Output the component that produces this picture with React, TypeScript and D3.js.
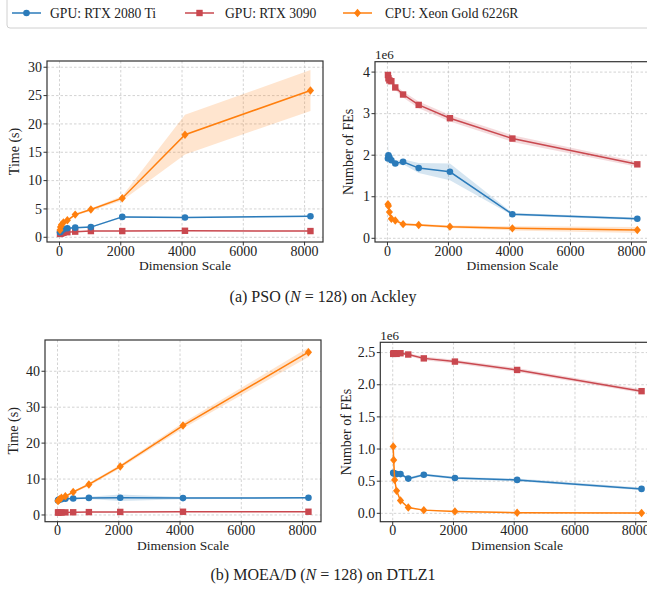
import React from 'react';
import * as d3 from 'd3';

const DIMS = [16, 32, 64, 128, 256, 512, 1024, 2048, 4096, 8192];
const X_TICKS = [0, 2000, 4000, 6000, 8000];

const LEGEND_LABELS = ['GPU: RTX 2080 Ti', 'GPU: RTX 3090', 'CPU: Xeon Gold 6226R'];

// (a) PSO on Ackley — time (s)
const psoTime2080 = [0.9, 1.0, 1.2, 1.4, 1.6, 1.7, 1.8, 3.6, 3.5, 3.7];
const psoTime2080Sd = [0.1, 0.1, 0.1, 0.1, 0.1, 0.1, 0.1, 0.15, 0.1, 0.1];
const psoTime3090 = [0.6, 0.65, 0.7, 0.8, 0.9, 1.0, 1.1, 1.1, 1.15, 1.1];
const psoTime3090Sd = [0.05, 0.05, 0.05, 0.05, 0.05, 0.05, 0.05, 0.05, 0.05, 0.05];
const psoTimeCpu = [1.3, 1.8, 2.2, 2.6, 3.0, 4.0, 4.9, 6.9, 18.1, 25.9];
const psoTimeCpuSd = [0.2, 0.2, 0.2, 0.2, 0.2, 0.2, 0.2, 0.4, 3.5, 3.6];

// (a) PSO on Ackley — number of FEs (x1e6)
const psoFes2080 = [1.92, 2.0, 1.95, 1.88, 1.8, 1.84, 1.69, 1.6, 0.58, 0.47];
const psoFes2080Sd = [0.45, 0.1, 0.08, 0.07, 0.06, 0.06, 0.12, 0.2, 0.03, 0.03];
const psoFes3090 = [3.93, 3.85, 3.8, 3.78, 3.63, 3.46, 3.21, 2.89, 2.4, 1.78];
const psoFes3090Sd = [0.06, 0.06, 0.06, 0.06, 0.06, 0.07, 0.08, 0.08, 0.08, 0.06];
const psoFesCpu = [0.82, 0.78, 0.63, 0.47, 0.43, 0.34, 0.32, 0.28, 0.24, 0.2];
const psoFesCpuSd = [0.03, 0.03, 0.03, 0.03, 0.03, 0.03, 0.03, 0.03, 0.05, 0.07];

// (b) MOEA/D on DTLZ1 — time (s)
const moeaTime2080 = [4.0, 4.2, 4.3, 4.4, 4.5, 4.6, 4.75, 4.8, 4.7, 4.8];
const moeaTime2080Sd = [0.15, 0.15, 0.15, 0.15, 0.15, 0.2, 0.3, 0.9, 0.3, 0.2];
const moeaTime3090 = [0.7, 0.7, 0.7, 0.7, 0.72, 0.75, 0.8, 0.85, 0.9, 0.9];
const moeaTime3090Sd = [0.05, 0.05, 0.05, 0.05, 0.05, 0.05, 0.05, 0.05, 0.05, 0.05];
const moeaTimeCpu = [3.9, 4.1, 4.4, 4.8, 5.2, 6.4, 8.5, 13.5, 24.9, 45.3];
const moeaTimeCpuSd = [0.2, 0.2, 0.2, 0.2, 0.25, 0.3, 0.4, 0.5, 0.8, 1.3];

// (b) MOEA/D on DTLZ1 — number of FEs (x1e6)
const moeaFes2080 = [0.63, 0.62, 0.62, 0.61, 0.61, 0.54, 0.6, 0.55, 0.52, 0.38];
const moeaFes2080Sd = [0.02, 0.02, 0.02, 0.02, 0.02, 0.02, 0.02, 0.02, 0.02, 0.02];
const moeaFes3090 = [2.48, 2.49, 2.49, 2.48, 2.49, 2.47, 2.41, 2.36, 2.23, 1.9];
const moeaFes3090Sd = [0.02, 0.02, 0.02, 0.02, 0.02, 0.02, 0.03, 0.03, 0.03, 0.03];
const moeaFesCpu = [1.04, 0.83, 0.52, 0.35, 0.2, 0.09, 0.05, 0.03, 0.01, 0.005];
const moeaFesCpuSd = [0.65, 0.1, 0.04, 0.02, 0.01, 0.01, 0.01, 0.01, 0.01, 0.01];

const COLORS = ['#2b7bba', '#c9484f', '#ff7f0e'];
const MARKERS = ['circle', 'square', 'diamond'];
const FONT = '"Liberation Serif", "Times New Roman", serif';

type S = { mean: number[]; sd: number[]; idx: number };

function Marker({ kind, x, y, color, size = 1 }: any) {
  if (kind === 'circle') return <circle cx={x} cy={y} r={3.3 * size} fill={color} />;
  if (kind === 'square') {
    const h = 3.2 * size;
    return <rect x={x - h} y={y - h} width={2 * h} height={2 * h} fill={color} />;
  }
  const h = 4.2 * size;
  return <path d={`M${x},${y - h}L${x + h * 0.85},${y}L${x},${y + h}L${x - h * 0.85},${y}Z`} fill={color} />;
}

function Panel({ box, yDomain, yTicks, yFmt, yLabel, yLabelX, offset, series }: any) {
  const [l, t, r, b] = box;
  const x = d3.scaleLinear().domain([-408.55, 8601.55]).range([l, r]);
  const y = d3.scaleLinear().domain(yDomain).range([b, t]);
  const line = d3.line<number>().x((_, i) => x(DIMS[i])).y((d) => y(d));
  return (
    <g>
      {X_TICKS.map((v) => (
        <line key={'gx' + v} x1={x(v)} x2={x(v)} y1={t} y2={b} stroke="#c8c8c8" strokeWidth={0.8} strokeDasharray="2.5,2" />
      ))}
      {yTicks.map((v: number) => (
        <line key={'gy' + v} x1={l} x2={r} y1={y(v)} y2={y(v)} stroke="#c8c8c8" strokeWidth={0.8} strokeDasharray="2.5,2" />
      ))}
      {series.map((s: S) => {
        const area = d3
          .area<number>()
          .x((_, i) => x(DIMS[i]))
          .y0((d, i) => y(d - s.sd[i]))
          .y1((d, i) => y(d + s.sd[i]));
        return <path key={'a' + s.idx} d={area(s.mean) || ''} fill={COLORS[s.idx]} fillOpacity={0.2} />;
      })}
      {series.map((s: S) => (
        <g key={'l' + s.idx}>
          <path d={line(s.mean) || ''} fill="none" stroke={COLORS[s.idx]} strokeWidth={1.5} />
          {s.mean.map((v, i) => (
            <Marker key={i} kind={MARKERS[s.idx]} x={x(DIMS[i])} y={y(v)} color={COLORS[s.idx]} />
          ))}
        </g>
      ))}
      <rect x={l} y={t} width={r - l} height={b - t} fill="none" stroke="#333" strokeWidth={1.2} />
      {X_TICKS.map((v) => (
        <g key={'tx' + v}>
          <line x1={x(v)} x2={x(v)} y1={b} y2={b + 3.5} stroke="#333" strokeWidth={1} />
          <text x={x(v)} y={b + 13.5} textAnchor="middle" fontSize={14} fontFamily={FONT} fill="#222">
            {v}
          </text>
        </g>
      ))}
      {yTicks.map((v: number) => (
        <g key={'ty' + v}>
          <line x1={l - 3.5} x2={l} y1={y(v)} y2={y(v)} stroke="#333" strokeWidth={1} />
          <text x={l - 5} y={y(v)} dy="0.33em" textAnchor="end" fontSize={14} fontFamily={FONT} fill="#222">
            {yFmt(v)}
          </text>
        </g>
      ))}
      {offset && (
        <text x={l} y={t - 2.5} fontSize={13} fontFamily={FONT} fill="#222">
          {offset}
        </text>
      )}
      <text x={(l + r) / 2} y={b + 28} textAnchor="middle" fontSize={13.5} fontFamily={FONT} fill="#222">
        Dimension Scale
      </text>
      <text
        transform={`translate(${yLabelX},${(t + b) / 2}) rotate(-90)`}
        textAnchor="middle"
        dy="0.35em"
        fontSize={14}
        fontFamily={FONT}
        fill="#222"
      >
        {yLabel}
      </text>
    </g>
  );
}

function Legend() {
  const items = [
    { lx: 12, tx: 50 },
    { lx: 185, tx: 225 },
    { lx: 343, tx: 385 },
  ];
  return (
    <g>
      <rect x={7} y={-3} width={660} height={31} rx={3} fill="#fff" stroke="#d0d0d0" strokeWidth={1} />
      {items.map((it, i) => (
        <g key={i}>
          <line x1={it.lx} x2={it.lx + 29} y1={13} y2={13} stroke={COLORS[i]} strokeWidth={1.5} />
          <Marker kind={MARKERS[i]} x={it.lx + 14.5} y={13} color={COLORS[i]} />
          <text x={it.tx} y={13} dy="0.35em" fontSize={13.6} fontFamily={FONT} fill="#222">
            {LEGEND_LABELS[i]}
          </text>
        </g>
      ))}
    </g>
  );
}

export default function App() {
  const f0 = (v: number) => String(v);
  const f1 = (v: number) => v.toFixed(1);
  return (
    <svg width={647} height={601} style={{ position: 'absolute', left: 0, top: 0, background: '#fff' }}>
      <rect width={647} height={601} fill="#fff" />
      <Panel
        box={[47, 61, 323, 242]}
        yDomain={[-0.83, 31.1]}
        yTicks={[0, 5, 10, 15, 20, 25, 30]}
        yFmt={f0}
        yLabel="Time (s)"
        yLabelX={14.5}
        series={[
          { mean: psoTime3090, sd: psoTime3090Sd, idx: 1 },
          { mean: psoTime2080, sd: psoTime2080Sd, idx: 0 },
          { mean: psoTimeCpu, sd: psoTimeCpuSd, idx: 2 },
        ]}
      />
      <Panel
        box={[375, 61.7, 649.8, 242]}
        yDomain={[-0.089, 4.25]}
        yTicks={[0, 1, 2, 3, 4]}
        yFmt={f0}
        yLabel="Number of FEs"
        yLabelX={348}
        offset="1e6"
        series={[
          { mean: psoFes3090, sd: psoFes3090Sd, idx: 1 },
          { mean: psoFes2080, sd: psoFes2080Sd, idx: 0 },
          { mean: psoFesCpu, sd: psoFesCpuSd, idx: 2 },
        ]}
      />
      <Panel
        box={[45, 340, 321, 521.7]}
        yDomain={[-1.87, 48.7]}
        yTicks={[0, 10, 20, 30, 40]}
        yFmt={f0}
        yLabel="Time (s)"
        yLabelX={13.5}
        series={[
          { mean: moeaTime3090, sd: moeaTime3090Sd, idx: 1 },
          { mean: moeaTime2080, sd: moeaTime2080Sd, idx: 0 },
          { mean: moeaTimeCpu, sd: moeaTimeCpuSd, idx: 2 },
        ]}
      />
      <Panel
        box={[380.3, 342.3, 654, 521.7]}
        yDomain={[-0.13, 2.66]}
        yTicks={[0, 0.5, 1, 1.5, 2, 2.5]}
        yFmt={f1}
        yLabel="Number of FEs"
        yLabelX={346}
        offset="1e6"
        series={[
          { mean: moeaFes3090, sd: moeaFes3090Sd, idx: 1 },
          { mean: moeaFes2080, sd: moeaFes2080Sd, idx: 0 },
          { mean: moeaFesCpu, sd: moeaFesCpuSd, idx: 2 },
        ]}
      />
      <Legend />
      <text x={323} y={302} textAnchor="middle" fontSize={16} fontFamily={FONT} fill="#222">
        (a) PSO (<tspan fontStyle="italic">N</tspan> = 128) on Ackley
      </text>
      <text x={323} y={580} textAnchor="middle" fontSize={16} fontFamily={FONT} fill="#222">
        (b) MOEA/D (<tspan fontStyle="italic">N</tspan> = 128) on DTLZ1
      </text>
    </svg>
  );
}
